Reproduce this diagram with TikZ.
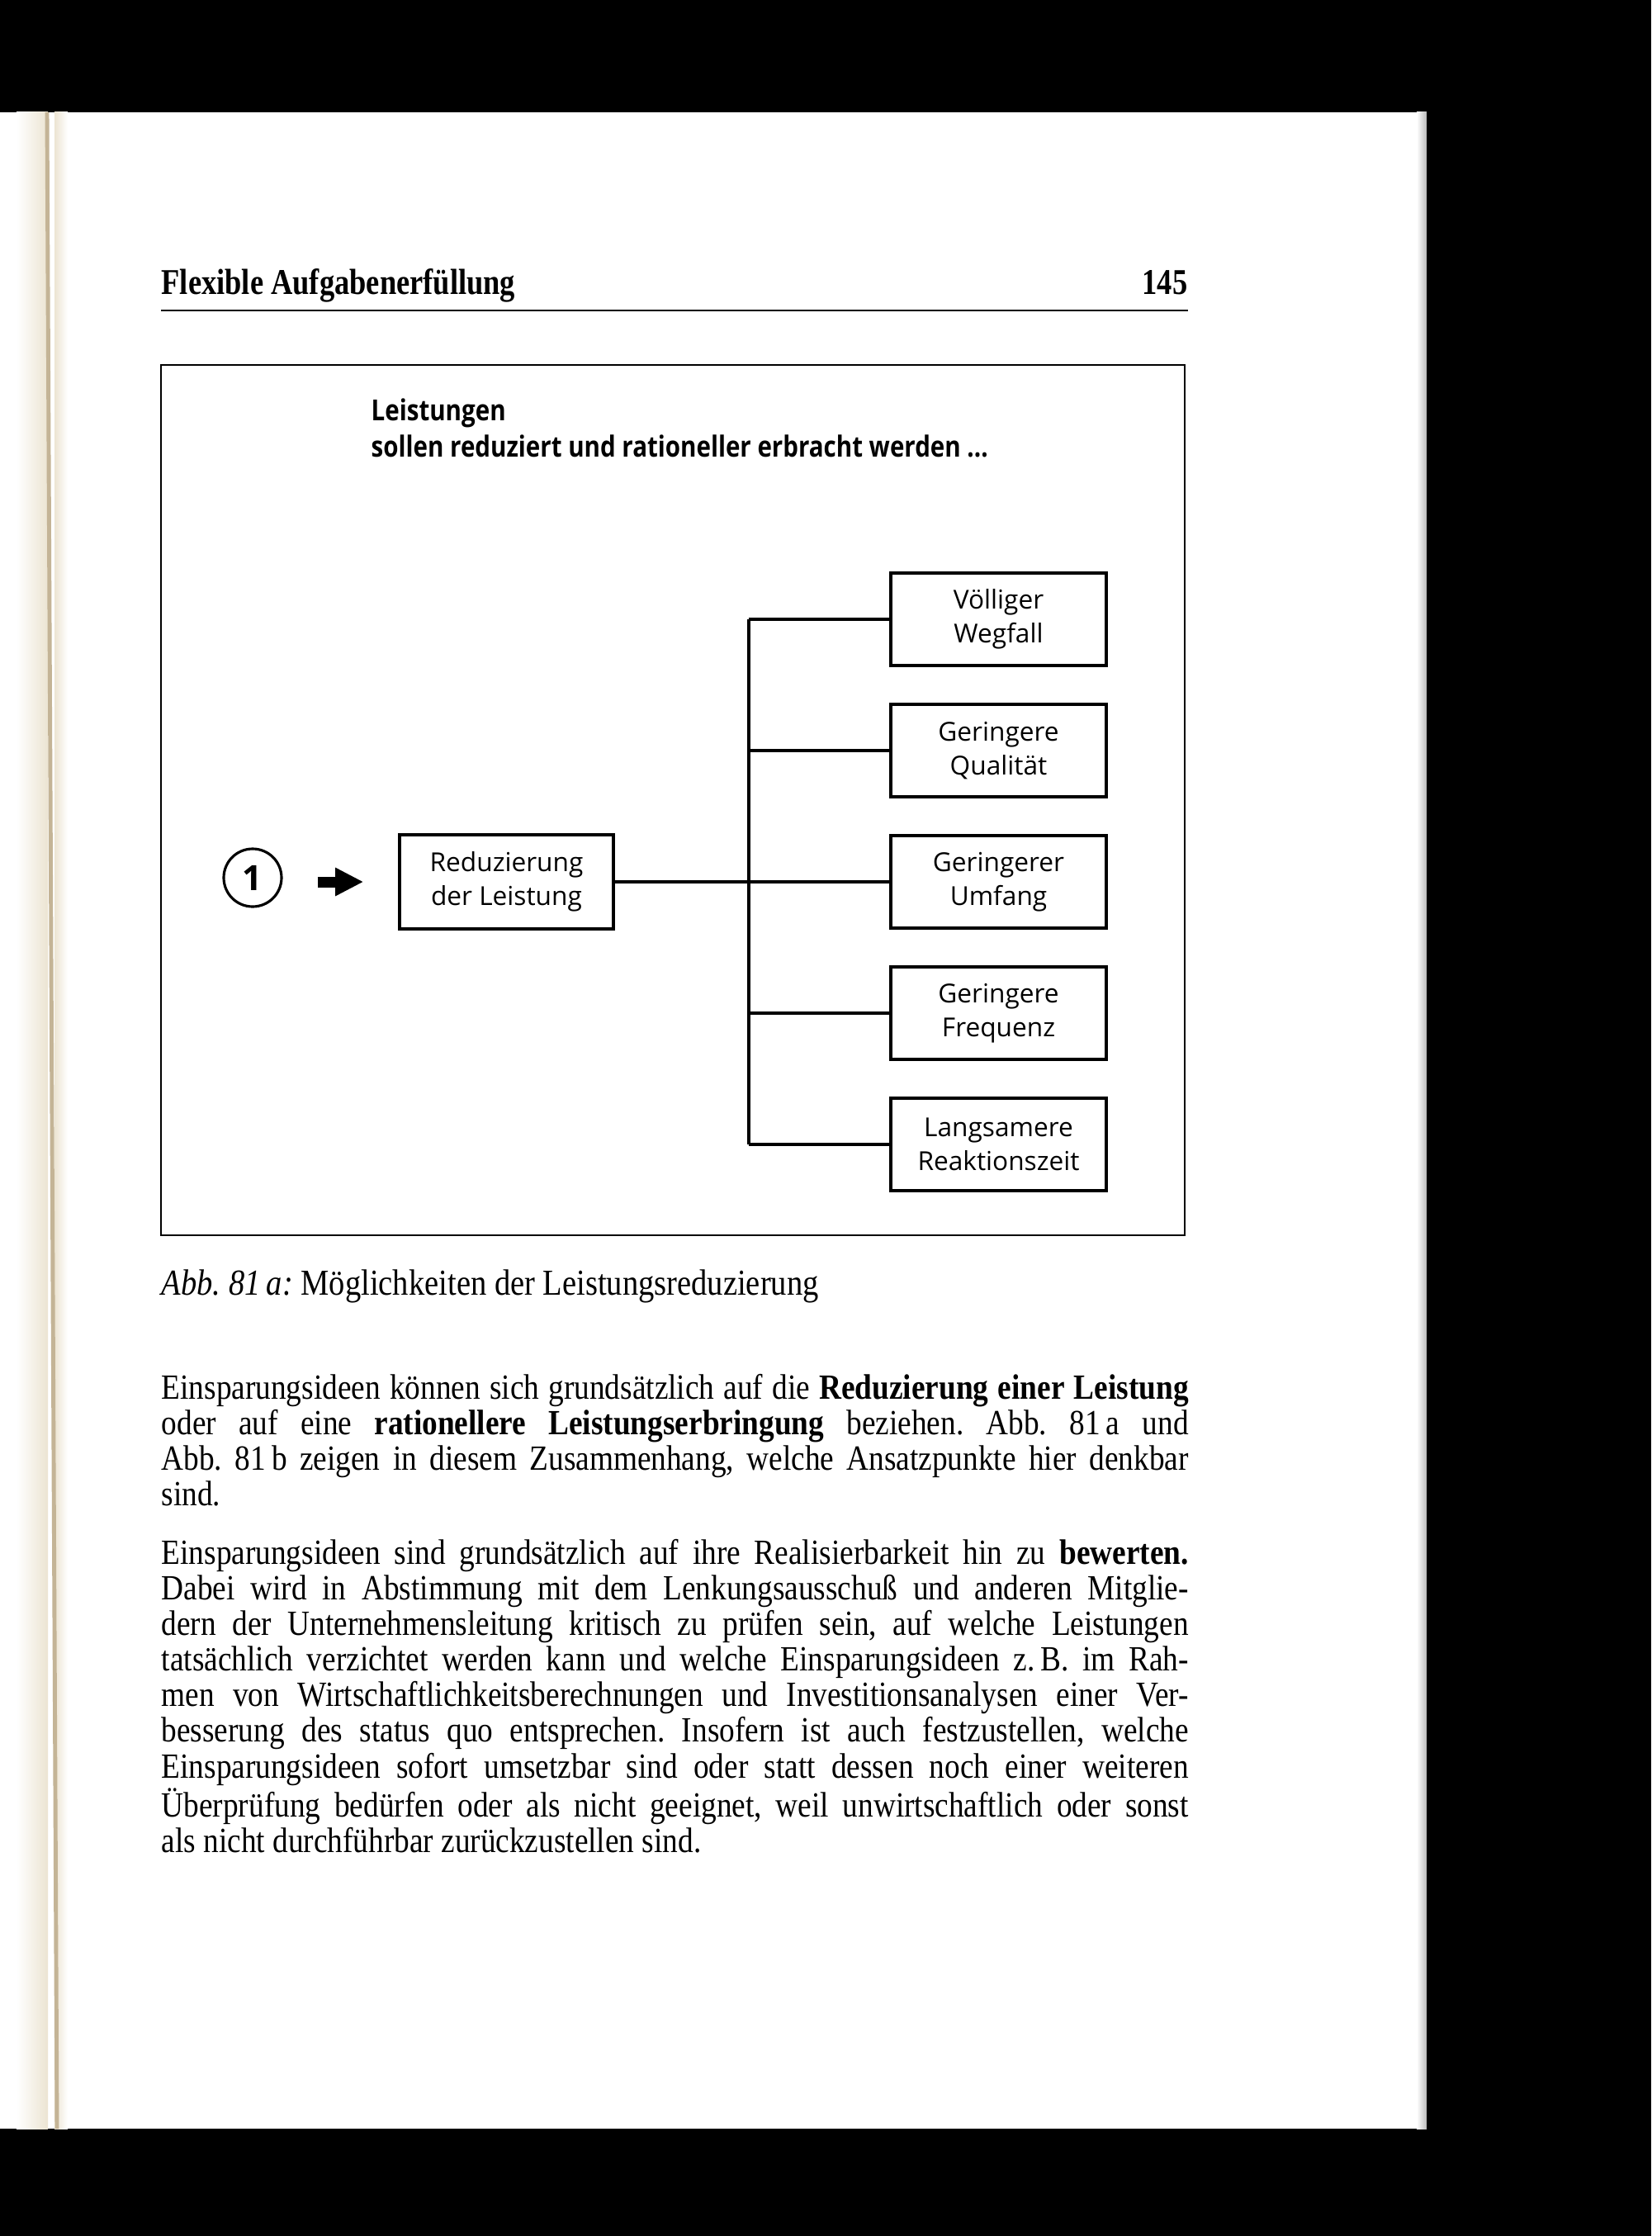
\documentclass[tikz,border=0pt]{standalone}
\usepackage{fontspec}
\setmainfont{Liberation Serif}[FakeStretch=0.87]
\newfontfamily\headfont{Liberation Serif}[FakeStretch=0.83]
\newfontfamily\boxfont{Open Sans}
\newfontfamily\titlefont{Open Sans}[FakeStretch=0.84]
\usetikzlibrary{arrows.meta,calc}
\definecolor{binding}{RGB}{236,228,210}
\definecolor{bindline}{RGB}{196,180,150}
\tolerance=9999
\hyphenpenalty=10000
\lineskiplimit=-20pt
\frenchspacing

\begin{document}
\begin{tikzpicture}[>=Stealth,
    opt/.style={draw, line width=1pt, minimum width=2.61cm,
                minimum height=1.12cm, align=center, inner sep=0pt,
                font=\boxfont\fontsize{9}{11.7}\selectfont},
    wire/.style={line width=1pt},
    fat/.style={-{Triangle[length=0.34cm,width=0.32cm]}, line width=0.13cm,
                shorten <=0.42cm, shorten >=0.42cm},
    body/.style={anchor=base west, inner sep=0pt, text width=12.44cm,
                 align=justify, font=\fontsize{12.2}{12.29}\selectfont}]
  \useasboundingbox (0,0) rectangle (20,-27.08);

  %% Scanned page on black
  \fill[black] (0,0) rectangle (20,-27.08);
  \fill[white] (0,-1.36) rectangle (17.28,-25.78);
  \shade[left color=white, right color=binding] (0.2,-1.36) rectangle (0.58,-25.78);
  \shade[left color=binding, right color=white] (0.66,-1.36) rectangle (0.82,-25.78);
  \draw[bindline, line width=1.4pt] (0.57,-1.36) -- (0.69,-25.78);
  \shade[left color=white, right color=gray!55] (17.16,-1.36) rectangle (17.28,-25.78);

  %% Running head
  \node[anchor=base west, inner sep=0pt, font=\headfont\fontsize{12.5}{14}\selectfont\bfseries]
    (head) at (1.95,-3.57) {Flexible Aufgabenerfüllung};
  \node[anchor=base east, inner sep=0pt, font=\headfont\fontsize{12.5}{14}\selectfont\bfseries]
    (pageno) at (14.39,-3.57) {145};
  \draw[line width=0.8pt] (1.95,-3.76) -- (14.39,-3.76);

  %% Figure frame
  \draw[line width=0.8pt] (1.95,-4.42) rectangle (14.35,-14.96);

  %% Lead text (base = last line)
  \node[anchor=base west, inner sep=0pt, align=left,
        font=\titlefont\bfseries\fontsize{10}{12.3}\selectfont]
    (lead) at (4.49,-5.53)
    {Leistungen\\sollen reduziert und rationeller erbracht werden ...};

  %% Start: circled number, arrow, reduction box
  \node[circle, draw, line width=0.9pt, minimum size=0.7cm, inner sep=0pt,
        font=\boxfont\bfseries\fontsize{12}{12}\selectfont]
    (circ) at (3.06,-10.63) {1};
  \node[opt, minimum width=2.59cm, minimum height=1.14cm]
    (red) at (6.135,-10.68) {Reduzierung\\der Leistung};

  %% Five options
  \node[opt] (b1) at (12.095,-7.50)  {Völliger\\Wegfall};
  \node[opt] (b2) at (12.095,-9.09)  {Geringere\\Qualität};
  \node[opt] (b3) at (12.095,-10.68) {Geringerer\\Umfang};
  \node[opt] (b4) at (12.095,-12.27) {Geringere\\Frequenz};
  \node[opt] (b5) at (12.095,-13.86) {Langsamere\\Reaktionszeit};

  %% Arrow and tree lines
  \draw[fat] (circ.east |- red.west) -- (red.west);
  \coordinate (bus) at (9.07,-10.68);
  \draw[wire] (red.east) -- (b3.west);
  \draw[wire] (bus |- b1.west) -- (bus |- b5.west);
  \draw[wire] (bus |- b1.west) -- (b1.west);
  \draw[wire] (bus |- b2.west) -- (b2.west);
  \draw[wire] (bus |- b4.west) -- (b4.west);
  \draw[wire] (bus |- b5.west) -- (b5.west);

  %% Caption
  \node[anchor=base west, inner sep=0pt, font=\fontsize{12.6}{12.3}\selectfont]
    (cap) at (1.95,-15.68)
    {\textit{Abb. 81\,a:} Möglichkeiten der Leistungsreduzierung};

  %% Body text
  \node[body] (par1) at (1.95,-16.94)
    {Einsparungsideen können sich grundsätzlich auf die \textbf{Reduzierung einer Leistung}\linebreak
     oder auf eine \textbf{rationellere Leistungserbringung} beziehen. Abb.~81\,a und\linebreak
     Abb.~81\,b zeigen in diesem Zusammenhang, welche Ansatzpunkte hier denkbar\linebreak
     sind.};
  \node[body] (par2) at (1.95,-18.94)
    {Einsparungsideen sind grundsätzlich auf ihre Realisierbarkeit hin zu \textbf{bewerten.}\linebreak
     Dabei wird in Abstimmung mit dem Lenkungsausschuß und anderen Mitglie-\linebreak
     dern der Unternehmensleitung kritisch zu prüfen sein, auf welche Leistungen\linebreak
     tatsächlich verzichtet werden kann und welche Einsparungsideen z.\,B. im Rah-\linebreak
     men von Wirtschaftlichkeitsberechnungen und Investitionsanalysen einer Ver-\linebreak
     besserung des status quo entsprechen. Insofern ist auch festzustellen, welche\linebreak
     Einsparungsideen sofort umsetzbar sind oder statt dessen noch einer weiteren\linebreak
     Überprüfung bedürfen oder als nicht geeignet, weil unwirtschaftlich oder sonst\linebreak
     als nicht durchführbar zurückzustellen sind.};
\end{tikzpicture}
\end{document}
